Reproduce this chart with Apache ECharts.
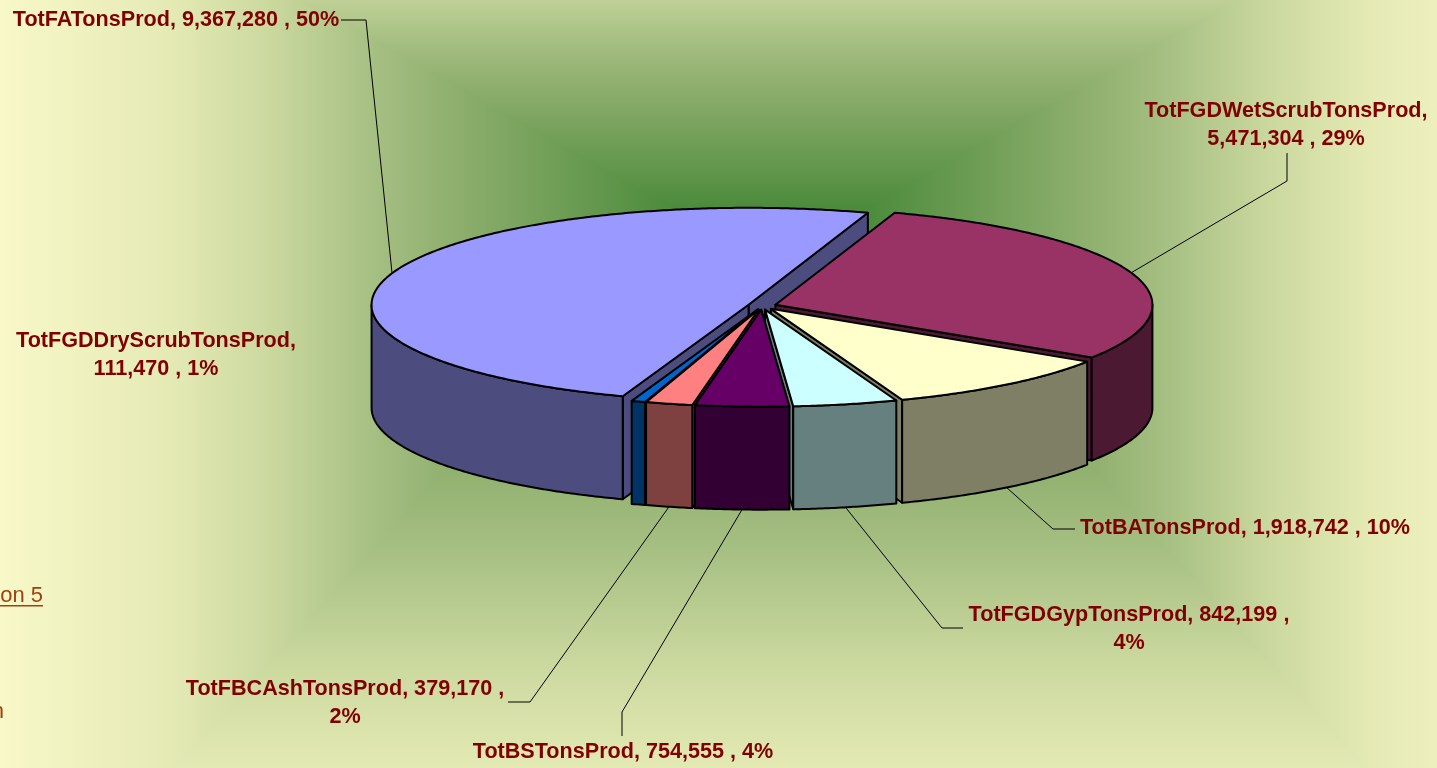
<!DOCTYPE html>
<html>
<head>
<meta charset="utf-8">
<script src="https://cdn.jsdelivr.net/npm/echarts@6/dist/echarts.min.js"></script>
<style>
    html, body { margin: 0; padding: 0; overflow: hidden; background: #f8f8c8; }
    #chart { width: 1437px; height: 768px; }
</style>
</head>
<body>
<div id="chart"></div>
<script>
// slices, clockwise from the cut at lower left
const sliceNames = ['TotFATonsProd', 'TotFGDWetScrubTonsProd', 'TotBATonsProd', 'TotFGDGypTonsProd',
    'TotBSTonsProd', 'TotFBCAshTonsProd', 'TotFGDDryScrubTonsProd'];
const sliceTons = [9367280, 5471304, 1918742, 842199, 754555, 379170, 111470];

// old excel palette: top face / side face
const topColors = ['#9999FF', '#993366', '#FFFFCC', '#CCFFFF', '#660066', '#FF8080', '#0066CC'];
const sideColors = ['#4C4C7F', '#4C1933', '#7F7F66', '#667F7F', '#330033', '#7F4040', '#003366'];

// geometry of the tilted pie (px)
const pie = { cx: 762, cy: 306, rx: 377, ry: 97, depth: 103, explode: 14.2, startAngle: 199.5 };

// where each label sits: centre of text block, how it wraps, leader elbow (from label side)
const labelLayout = [
    { x: 176, y: 20, wrap: 0, leader: [[341, 20], [366, 20]] },
    { x: 1286, y: 125, wrap: 1, leader: [[1287, 153], [1287, 181]] },
    { x: 1245, y: 528, wrap: 0, leader: [[1075, 529], [1053, 529]] },
    { x: 1129, y: 629, wrap: 2, leader: [[963, 628], [942, 628]] },
    { x: 623, y: 752, wrap: 0, leader: [[622, 736], [622, 712]] },
    { x: 345, y: 703, wrap: 2, leader: [[508, 702], [530, 702]] },
    { x: 156, y: 355, wrap: 1, leader: null }
];

const total = sliceTons.reduce((a, b) => a + b, 0);
const rad = d => d * Math.PI / 180;

function fmt(n) {
    return n.toLocaleString('en-US');
}

function labelText(i) {
    const pct = Math.round(sliceTons[i] / total * 100) + '%';
    const name = sliceNames[i] + ',';
    const val = fmt(sliceTons[i]) + ' ,';
    const mode = labelLayout[i].wrap;
    if (mode === 1) return name + '\n' + val + ' ' + pct;
    if (mode === 2) return name + ' ' + val + '\n' + pct;
    return name + ' ' + val + ' ' + pct;
}

// angles (deg, clockwise from 12 o'clock)
let acc = pie.startAngle;
const sliceData = sliceTons.map(v => {
    const a0 = acc;
    const a1 = acc + v / total * 360;
    acc = a1;
    return [v, a0, a1];
});

function pt(ox, oy, ang, r, drop) {
    return [pie.cx + ox + r * pie.rx * Math.sin(rad(ang)),
            pie.cy + oy - r * pie.ry * Math.cos(rad(ang)) + drop];
}

function arc(ox, oy, from, to, drop) {
    const pts = [];
    const n = Math.max(2, Math.ceil(Math.abs(to - from) * 2));
    for (let k = 0; k <= n; k++) pts.push(pt(ox, oy, from + (to - from) * k / n, 1, drop));
    return pts;
}

const edge = { stroke: '#000', lineWidth: 2, lineJoin: 'round' };

function renderSlice(params, api) {
    const i = params.dataIndex;
    const a0 = api.value(1);
    const a1 = api.value(2);
    const mid = (a0 + a1) / 2;
    const ox = pie.explode * Math.sin(rad(mid));
    const oy = -pie.explode * pie.ry / pie.rx * Math.cos(rad(mid));
    const d = pie.depth;
    const apex = pt(ox, oy, 0, 0, 0);
    const apexLow = pt(ox, oy, 0, 0, d);
    const kids = [];

    // radial cut walls, only the ones facing us
    const walls = [];
    if (Math.sin(rad(a0)) < 0) walls.push(a0);
    if (Math.sin(rad(a1)) > 0) walls.push(a1);
    walls.forEach(a => {
        const e = pt(ox, oy, a, 1, 0);
        const midY = (apex[1] + e[1]) / 2 + d / 2;
        kids.push({
            type: 'polygon',
            z2: Math.round(midY),
            shape: { points: [apex, e, pt(ox, oy, a, 1, d), apexLow] },
            style: Object.assign({ fill: sideColors[i] }, edge)
        });
    });

    // outer rim on the front half
    [[90, 270], [450, 630]].forEach(([f0, f1]) => {
        const s = Math.max(a0, f0);
        const e = Math.min(a1, f1);
        if (e <= s) return;
        const pts = arc(ox, oy, s, e, 0).concat(arc(ox, oy, e, s, d));
        kids.push({
            type: 'polygon',
            z2: 1000,
            shape: { points: pts },
            style: Object.assign({ fill: sideColors[i] }, edge)
        });
    });

    // top face
    kids.push({
        type: 'polygon',
        z2: 2000,
        shape: { points: [apex].concat(arc(ox, oy, a0, a1, 0)) },
        style: Object.assign({ fill: topColors[i] }, edge)
    });

    // label + leader
    const lay = labelLayout[i];
    if (lay.leader) {
        const front = Math.cos(rad(mid)) < 0;
        const anchor = pt(ox, oy, mid, 1, front ? d : 0);
        kids.push({
            type: 'polyline',
            z2: 3000,
            shape: { points: lay.leader.concat([anchor]) },
            style: { stroke: '#000', lineWidth: 1, fill: null }
        });
    }
    kids.push({
        type: 'text',
        z2: 3001,
        x: lay.x,
        y: lay.y,
        style: {
            text: labelText(i),
            fill: '#800000',
            fontFamily: '"Liberation Sans", Arial, sans-serif',
            fontWeight: 'bold',
            fontSize: 21.6,
            lineHeight: 28,
            align: 'center',
            verticalAlign: 'middle'
        }
    });

    return { type: 'group', children: kids };
}

// "from centre" fill of the chart area: two vertical halves, then side wedges on top.
// the centre is a short horizontal run (cx0..cx1) rather than a point
const bgBox = { left: 0, right: 1540, top: -170, bottom: 960, cx0: 680, cx1: 860, cy: 212 };
const bgStops = [
    { offset: 0, color: '#4a8a3a' },
    { offset: 0.3, color: '#88ab69' },
    { offset: 0.45, color: '#a6bf82' },
    { offset: 0.6, color: '#cad89e' },
    { offset: 0.75, color: '#e5eab5' },
    { offset: 1, color: '#f8f8c8' }
];

function grad(x0, y0, x1, y1) {
    return new echarts.graphic.LinearGradient(x0, y0, x1, y1, bgStops, true);
}

const b = bgBox;
const background = [
    { type: 'rect', z: 0, silent: true, shape: { x: b.left, y: b.top, width: b.right - b.left, height: b.cy - b.top + 1 },
      style: { fill: grad(0, b.cy, 0, b.top) } },
    { type: 'rect', z: 0, silent: true, shape: { x: b.left, y: b.cy, width: b.right - b.left, height: b.bottom - b.cy },
      style: { fill: grad(0, b.cy, 0, b.bottom) } },
    { type: 'polygon', z: 1, silent: true, shape: { points: [[b.left, b.top], [b.cx0, b.cy], [b.left, b.bottom]] },
      style: { fill: grad(b.cx0, 0, b.left, 0) } },
    { type: 'polygon', z: 1, silent: true, shape: { points: [[b.right, b.top], [b.cx1, b.cy], [b.right, b.bottom]] },
      style: { fill: grad(b.cx1, 0, b.right, 0) } }
];

// bits of the page showing at the left edge
const pageBits = [
    { type: 'text', z: 5, x: 43, y: 596, style: { text: 'on 5', fill: '#a0400f', fontFamily: '"Liberation Sans", Arial, sans-serif', fontSize: 22, align: 'right', verticalAlign: 'middle' } },
    { type: 'rect', z: 5, shape: { x: 0, y: 605, width: 43, height: 1.6 }, style: { fill: '#a0400f' } },
    { type: 'text', z: 5, x: 4, y: 712, style: { text: 'n', fill: '#a0400f', fontFamily: '"Liberation Sans", Arial, sans-serif', fontSize: 22, align: 'right', verticalAlign: 'middle' } }
];

const chart = echarts.init(document.getElementById('chart'));
chart.setOption({
    animation: false,
    graphic: { elements: background.concat(pageBits) },
    series: [{
        type: 'custom',
        coordinateSystem: 'none',
        silent: true,
        z: 10,
        renderItem: renderSlice,
        data: sliceData
    }]
});
</script>
</body>
</html>
